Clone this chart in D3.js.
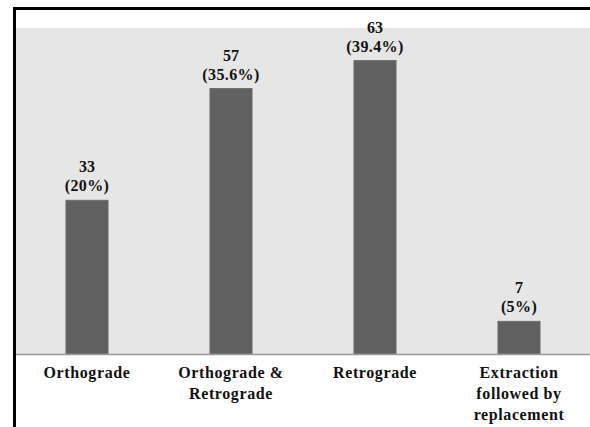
<!DOCTYPE html>
<html>
<head>
<meta charset="utf-8">
<script src="https://cdn.jsdelivr.net/npm/d3@7"></script>
<style>
  body { margin: 0; background: #fff; }
  svg { display: block; }
</style>
</head>
<body>
<svg id="chart"></svg>
<script>
  var categories = ["Orthograde", "Orthograde & Retrograde", "Retrograde", "Extraction followed by replacement"];
  var categoryLines = [["Orthograde"], ["Orthograde &", "Retrograde"], ["Retrograde"], ["Extraction", "followed by", "replacement"]];
  var counts = [33, 57, 63, 7];
  var percents = ["20%", "35.6%", "39.4%", "5%"];

  var data = categories.map(function(c, i) {
    return { cat: c, lines: categoryLines[i], count: counts[i], pct: percents[i] };
  });

  var svgWidth = 590, svgHeight = 427;
  var plotLeft = 15, plotRight = 591, plotTop = 28, plotBottom = 354;
  var serif = "'Liberation Serif', Tinos, 'Times New Roman', Times, 'DejaVu Serif', serif";

  var svg = d3.select("#chart")
    .attr("width", svgWidth)
    .attr("height", svgHeight)
    .attr("font-family", serif)
    .attr("font-weight", "bold");

  // plot background
  svg.append("rect")
    .attr("x", 16).attr("y", plotTop)
    .attr("width", svgWidth - 16).attr("height", plotBottom - plotTop)
    .attr("fill", "#e6e6e6");

  var x = d3.scaleBand()
    .domain(categories)
    .range([plotLeft, plotRight])
    .paddingInner(0.708)
    .paddingOuter(0.354);

  var y = d3.scaleLinear()
    .domain([0, 70])
    .range([plotBottom, plotTop]);

  svg.selectAll("rect.bar")
    .data(data)
    .enter()
    .append("rect")
    .attr("class", "bar")
    .attr("x", function(d) { return x(d.cat); })
    .attr("y", function(d) { return y(d.count); })
    .attr("width", x.bandwidth())
    .attr("height", function(d) { return y(0) - y(d.count); })
    .attr("fill", "#606060")
    .attr("stroke", "#6e6e6e")
    .attr("stroke-width", 1);

  // value labels
  var labels = svg.selectAll("g.vlabel")
    .data(data)
    .enter()
    .append("g")
    .attr("class", "vlabel")
    .attr("transform", function(d) {
      return "translate(" + (x(d.cat) + x.bandwidth() / 2) + "," + y(d.count) + ")";
    });

  labels.append("text")
    .attr("text-anchor", "middle")
    .attr("y", -28)
    .attr("font-family", serif)
    .attr("font-weight", "bold")
    .attr("font-size", 16)
    .attr("fill", "#111")
    .text(function(d) { return d.count; });

  labels.append("text")
    .attr("text-anchor", "middle")
    .attr("y", -9)
    .attr("font-family", serif)
    .attr("font-weight", "bold")
    .attr("font-size", 16)
    .attr("fill", "#111")
    .attr("letter-spacing", 0.4)
    .text(function(d) { return "(" + d.pct + ")"; });

  // x axis
  var xAxis = d3.axisBottom(x).tickSize(0).tickFormat("");
  var gx = svg.append("g")
    .attr("transform", "translate(0," + plotBottom + ")")
    .call(xAxis);
  gx.select(".domain")
    .attr("d", "M16,0.5H" + svgWidth)
    .attr("stroke", "#9a9a9a")
    .attr("stroke-width", 1.5);

  gx.selectAll(".tick").each(function(c, i) {
    var t = d3.select(this).append("text")
      .attr("text-anchor", "middle")
      .attr("font-family", serif)
      .attr("font-weight", "bold")
      .attr("font-size", 16)
      .attr("letter-spacing", 0.6)
      .attr("fill", "#111");
    categoryLines[i].forEach(function(line, j) {
      t.append("tspan")
        .attr("x", 0)
        .attr("y", 24 + j * 21)
        .text(line);
    });
  });

  // outer frame (clipped by the image edges)
  svg.append("path")
    .attr("d", "M14.5," + svgHeight + "V8.5H" + svgWidth)
    .attr("fill", "none")
    .attr("stroke", "#000")
    .attr("stroke-width", 3);
</script>
</body>
</html>
